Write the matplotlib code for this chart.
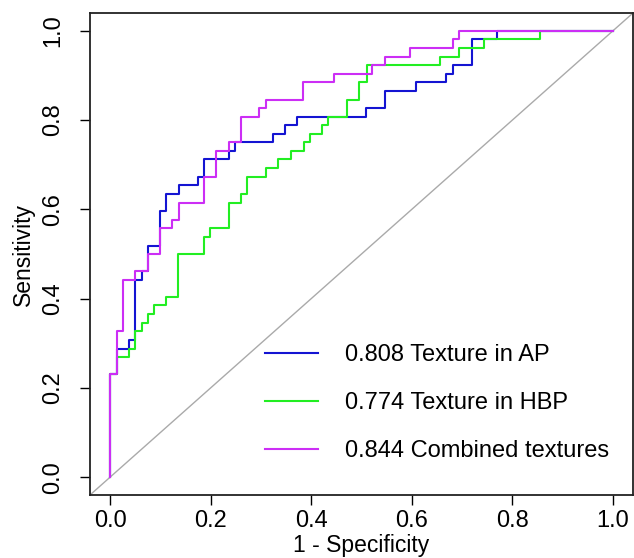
import matplotlib
matplotlib.use("Agg")
import matplotlib.pyplot as plt

plt.rcParams['font.family'] = ['Liberation Sans', 'DejaVu Sans']

# ROC step knots (1 - specificity, sensitivity)
ap_fpr = [0, 0, 0.013, 0.038, 0.05, 0.063, 0.075, 0.1, 0.111, 0.137, 0.175,
          0.186, 0.236, 0.249, 0.323, 0.347, 0.372, 0.508, 0.546, 0.608,
          0.669, 0.682, 0.719, 0.769, 1.0]
ap_tpr = [0, 0.231, 0.288, 0.308, 0.442, 0.462, 0.519, 0.596, 0.635, 0.654,
          0.673, 0.712, 0.731, 0.75, 0.769, 0.788, 0.808, 0.827, 0.865,
          0.885, 0.904, 0.923, 0.981, 1.0, 1.0]

hbp_fpr = [0, 0, 0.013, 0.038, 0.05, 0.063, 0.075, 0.088, 0.112, 0.136,
           0.186, 0.199, 0.236, 0.261, 0.272, 0.31, 0.334, 0.36, 0.385,
           0.397, 0.422, 0.434, 0.471, 0.496, 0.51, 0.656, 0.694, 0.744,
           0.855, 1.0]
hbp_tpr = [0, 0.231, 0.269, 0.288, 0.327, 0.346, 0.365, 0.385, 0.404, 0.5,
           0.538, 0.558, 0.615, 0.635, 0.673, 0.692, 0.712, 0.731, 0.75,
           0.769, 0.788, 0.808, 0.846, 0.885, 0.923, 0.942, 0.962, 0.981,
           1.0, 1.0]

comb_fpr = [0, 0, 0.013, 0.025, 0.05, 0.075, 0.1, 0.124, 0.137, 0.186,
            0.211, 0.236, 0.26, 0.297, 0.31, 0.384, 0.446, 0.521, 0.546,
            0.596, 0.682, 0.694, 1.0]
comb_tpr = [0, 0.231, 0.327, 0.442, 0.462, 0.5, 0.558, 0.577, 0.615, 0.673,
            0.731, 0.75, 0.808, 0.827, 0.846, 0.885, 0.904, 0.923, 0.942,
            0.962, 0.981, 1.0, 1.0]

labels = ["0.808 Texture in AP", "0.774 Texture in HBP",
          "0.844 Combined textures"]
colors = ["#1414D2", "#22EE22", "#CC2EF5"]
ticks = [0.0, 0.2, 0.4, 0.6, 0.8, 1.0]

W, H = 634, 558
fig = plt.figure(figsize=(W / 100, H / 100), dpi=100)
ax = fig.add_axes([90 / W, 1 - 495 / H, (633 - 90) / W, (495 - 13) / H])

# diagonal reference
ax.axline((0, 0), (1, 1), color="#AAAAAA", lw=1.0, zorder=1)

curves = [(ap_fpr, ap_tpr), (hbp_fpr, hbp_tpr), (comb_fpr, comb_tpr)]
for (fx, ty), lab, col in zip(curves, labels, colors):
    ax.plot(fx, ty, drawstyle="steps-post", color=col, lw=1.5, label=lab,
            zorder=2)

ax.set_xlim(-0.04, 1.04)
ax.set_ylim(-0.04, 1.04)
ax.set_xticks(ticks)
ax.set_yticks(ticks)
ax.set_xticklabels([f"{t:.1f}" for t in ticks])
ax.set_yticklabels([f"{t:.1f}" for t in ticks], rotation=90, va="center")
ax.tick_params(direction="out", length=7.5, width=1.0, labelsize=17,
               colors="black")
ax.tick_params(axis="x", pad=3)
ax.tick_params(axis="y", pad=11)
for sp in ax.spines.values():
    sp.set_linewidth(1.3)
    sp.set_color("#222222")

ax.set_xlabel("1 - Specificity", fontsize=16.5, labelpad=1.5)
ax.set_ylabel("Sensitivity", fontsize=16.5, labelpad=5)

ax.legend(loc="upper left", bbox_to_anchor=(265 / W, 1 - 344 / H),
          bbox_transform=fig.transFigure, frameon=False, fontsize=17,
          borderpad=0, handlelength=2.25, handletextpad=1.15,
          labelspacing=1.1, borderaxespad=0)

fig.savefig("out.png", dpi=100)
